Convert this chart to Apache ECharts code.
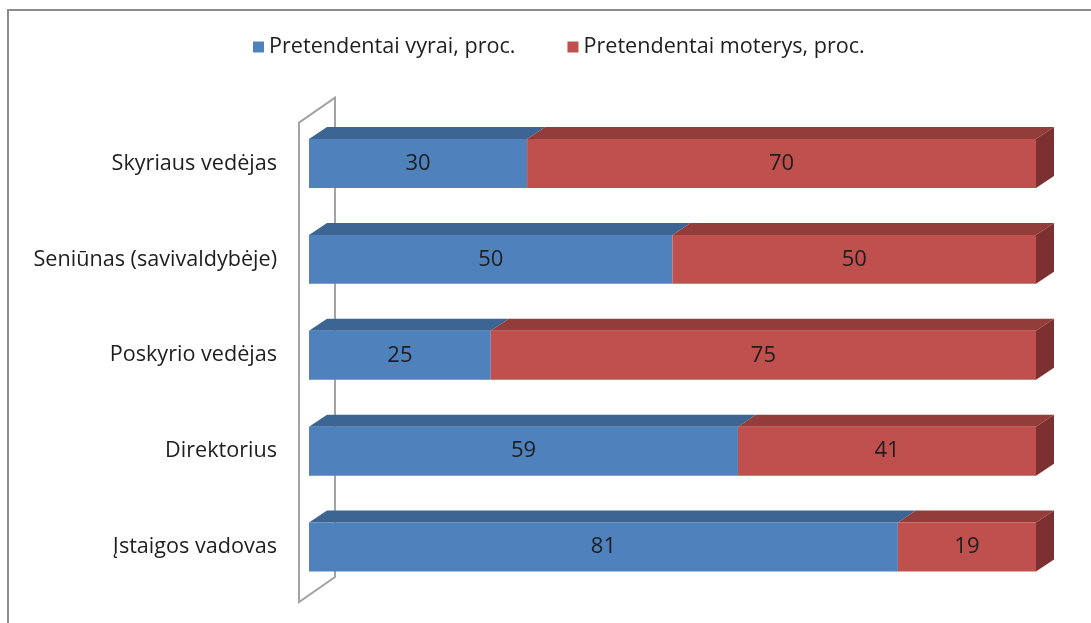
<!DOCTYPE html>
<html>
<head>
<meta charset="utf-8">
<script src="https://cdn.jsdelivr.net/npm/echarts@6/dist/echarts.min.js"></script>
<style>
  html, body { margin: 0; padding: 0; background: #ffffff; }
  #chart { width: 1091px; height: 623px; }
</style>
</head>
<body>
<div id="chart"></div>
<script>
// Position categories (top to bottom)
const categories = [
  'Skyriaus vedėjas',
  'Seniūnas (savivaldybėje)',
  'Poskyrio vedėjas',
  'Direktorius',
  'Įstaigos vadovas'
];
// Share of male and female applicants, %
const menShare = [30, 50, 25, 59, 81];
const womenShare = [70, 50, 75, 41, 19];
const seriesNames = ['Pretendentai vyrai, proc.', 'Pretendentai moterys, proc.'];

// 3D look
const FONT = '"Open Sans", "Noto Sans", sans-serif';
const TEXT_SIZE = 21.6;
const BAR_RATIO = 0.51;          // bar thickness as share of category band
const DEPTH_X = 18, DEPTH_Y = -12;  // bar depth projection
const WALL_GAP_X = 10, WALL_SHIFT_Y = 7; // wall front edge vs bar front
const WALL_DX = 36, WALL_DY = -25;  // wall depth projection
const palette = {
  men:   { front: '#4F81BD', top: '#3D6594', side: '#2F5078' },
  women: { front: '#C0504D', top: '#933D3B', side: '#7C3130' }
};

// stacked segments: [categoryIndex, start, end, value]
const menData = menShare.map((v, i) => [i, 0, v, v]);
const womenData = womenShare.map((v, i) => [i, menShare[i], menShare[i] + v, v]);

function makeSegmentRenderer(colors, drawSide) {
  return function (params, api) {
    const cat = api.value(0);
    const p0 = api.coord([api.value(1), cat]);
    const p1 = api.coord([api.value(2), cat]);
    const band = api.size([0, 1])[1];
    const h = band * BAR_RATIO;
    const x0 = p0[0], x1 = p1[0];
    const yTop = p0[1] - h / 2, yBot = p0[1] + h / 2;
    const children = [
      {
        type: 'polygon',
        shape: { points: [[x0, yTop], [x1, yTop], [x1 + DEPTH_X, yTop + DEPTH_Y], [x0 + DEPTH_X, yTop + DEPTH_Y]] },
        style: { fill: colors.top }
      },
      {
        type: 'rect',
        shape: { x: x0, y: yTop, width: x1 - x0, height: h },
        style: { fill: colors.front }
      }
    ];
    if (drawSide) {
      children.push({
        type: 'polygon',
        shape: { points: [[x1, yTop], [x1 + DEPTH_X, yTop + DEPTH_Y], [x1 + DEPTH_X, yBot + DEPTH_Y], [x1, yBot]] },
        style: { fill: colors.side }
      });
    }
    children.push({
      type: 'text',
      style: {
        text: String(api.value(3)),
        x: (x0 + x1) / 2,
        y: p0[1],
        align: 'center',
        verticalAlign: 'middle',
        fontSize: 22,
        fontFamily: FONT,
        fill: '#1e1e1e'
      }
    });
    return { type: 'group', children: children };
  };
}

function renderWall(params, api) {
  const band = api.size([0, 1])[1];
  const first = api.coord([0, 0]);
  const last = api.coord([0, categories.length - 1]);
  const x = first[0] - WALL_GAP_X;
  const yTop = first[1] - band / 2 + WALL_SHIFT_Y;
  const yBot = last[1] + band / 2 + WALL_SHIFT_Y;
  return {
    type: 'polygon',
    shape: { points: [[x, yTop], [x + WALL_DX, yTop + WALL_DY], [x + WALL_DX, yBot + WALL_DY], [x, yBot]] },
    style: { fill: '#ffffff', stroke: '#a3a3a3', lineWidth: 2 }
  };
}

const chart = echarts.init(document.getElementById('chart'), null, { renderer: 'canvas' });

chart.setOption({
  backgroundColor: '#ffffff',
  animation: false,
  color: [palette.men.front, palette.women.front],
  graphic: [{
    type: 'rect',
    shape: { x: 8, y: 10, width: 1200, height: 800 },
    style: { fill: 'none', stroke: '#8c8c8c', lineWidth: 2 },
    silent: true,
    z: -10
  }],
  legend: {
    data: seriesNames,
    left: 248,
    top: 31,
    icon: 'rect',
    itemWidth: 11,
    itemHeight: 11,
    itemGap: 52,
    textStyle: { fontSize: TEXT_SIZE, fontFamily: FONT, color: '#1e1e1e' }
  },
  grid: { left: 309, right: 55, top: 115.6, bottom: 28, containLabel: false },
  xAxis: {
    type: 'value',
    min: 0,
    max: 100,
    show: false
  },
  yAxis: {
    type: 'category',
    data: categories,
    inverse: true,
    axisLine: { show: false },
    axisTick: { show: false },
    splitLine: { show: false },
    axisLabel: {
      margin: 32,
      fontSize: TEXT_SIZE,
      fontFamily: FONT,
      color: '#1e1e1e',
      padding: [14, 0, 0, 0]
    }
  },
  series: [
    {
      name: 'wall',
      type: 'custom',
      renderItem: renderWall,
      data: [[0, 0]],
      encode: { x: 0, y: 1 },
      silent: true,
      z: 1
    },
    {
      name: seriesNames[0],
      type: 'custom',
      renderItem: makeSegmentRenderer(palette.men, false),
      data: menData,
      encode: { y: 0, x: [1, 2] },
      itemStyle: { color: palette.men.front },
      z: 2
    },
    {
      name: seriesNames[1],
      type: 'custom',
      renderItem: makeSegmentRenderer(palette.women, true),
      data: womenData,
      encode: { y: 0, x: [1, 2] },
      itemStyle: { color: palette.women.front },
      z: 3
    }
  ]
});
</script>
</body>
</html>
